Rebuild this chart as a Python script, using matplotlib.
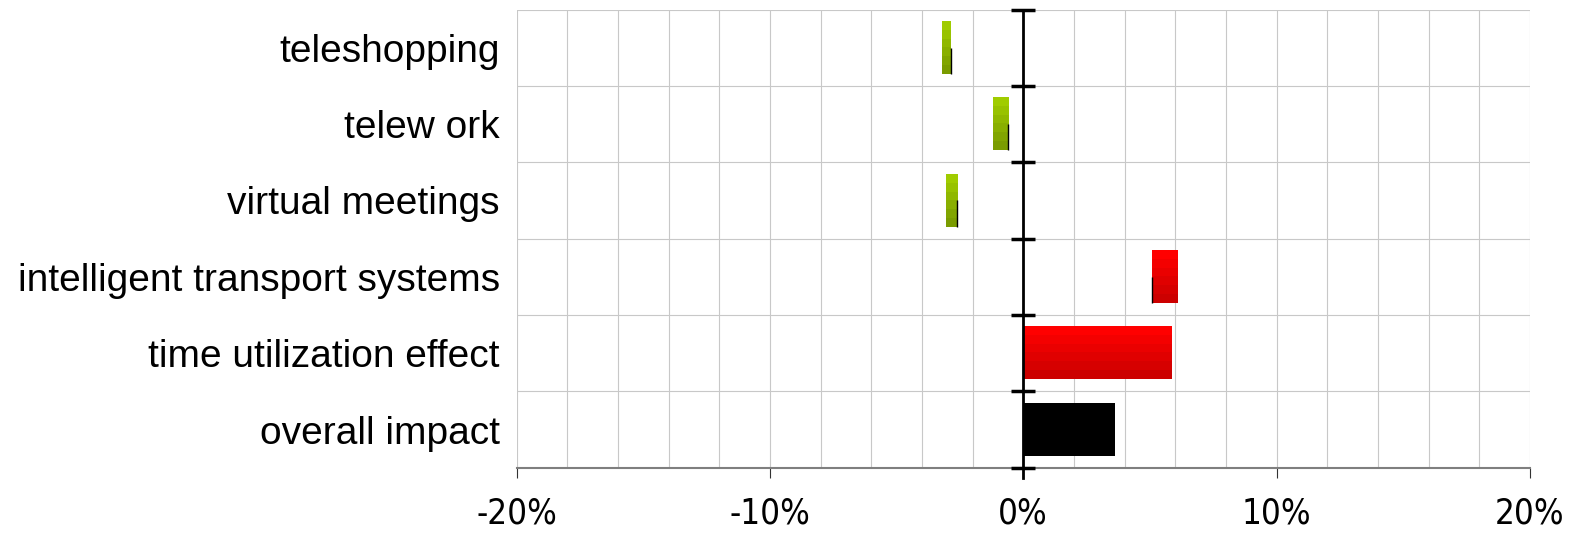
import numpy as np
import matplotlib
matplotlib.use("Agg")
import matplotlib.pyplot as plt
from matplotlib import font_manager
from matplotlib.ticker import MultipleLocator, FixedLocator, FuncFormatter

# change in travel (%), each bar runs from start to end
categories = ["teleshopping", "telew ork", "virtual meetings",
              "intelligent transport systems", "time utilization effect",
              "overall impact"]
starts = [-3.2, -1.2, -3.05, 6.1, 0.0, 0.0]
ends = [-2.85, -0.6, -2.6, 5.1, 5.85, 3.6]
marked = [True, True, True, True, False, False]
kinds = ["green", "green", "green", "red", "red", "black"]

gradients = {
    "green": ("#a0cc00", "#7a9c00"),
    "red": ("#ff0000", "#cc0000"),
    "black": ("#000000", "#000000"),
}

names = {f.name for f in font_manager.fontManager.ttflist}
label_font = "Liberation Sans" if "Liberation Sans" in names else "DejaVu Sans"

# narrow face for the percent labels, if one is around
tick_prop = None
for f in font_manager.fontManager.ttflist:
    if f.style == "normal" and f.weight in (400, "normal", "regular") and (
            "Narrow" in f.name or "Condensed" in f.name
            or f.stretch in ("condensed", "semi-condensed")):
        tick_prop = font_manager.FontProperties(fname=f.fname, size=25)
        break
if tick_prop is None:
    tick_prop = font_manager.FontProperties(family=label_font, size=24)

fig = plt.figure(figsize=(15.77, 5.33), dpi=100)
ax = fig.add_axes([516.5 / 1577, 65.3 / 533, 1013.5 / 1577, 458.2 / 533])

y = np.arange(len(categories))
h = 0.69
left = np.minimum(starts, ends)
width = np.abs(np.subtract(ends, starts))
bars = ax.barh(y, width, left=left, height=h, color="none", zorder=3)

# vertical gradient inside each bar
for i, b in enumerate(bars):
    top, bottom = gradients[kinds[i]]
    c0 = np.array(matplotlib.colors.to_rgb(top))
    c1 = np.array(matplotlib.colors.to_rgb(bottom))
    t = np.linspace(0, 1, 6)[:, None]
    img = (c0 * (1 - t) + c1 * t)[:, None, :]
    x0, w = b.get_x(), b.get_width()
    ax.imshow(img, extent=(x0, x0 + w, y[i] + h / 2, y[i] - h / 2),
              origin="upper", aspect="auto", interpolation="nearest", zorder=3)
    if marked[i]:
        ax.vlines(ends[i], y[i], y[i] + h / 2, color="black", lw=1.0, zorder=4)

ax.set_xlim(-20, 20)
ax.set_ylim(len(categories) - 0.5, -0.5)

ax.xaxis.set_major_locator(MultipleLocator(10))
ax.xaxis.set_minor_locator(MultipleLocator(2))
ax.xaxis.set_major_formatter(FuncFormatter(lambda v, p: "%d%%" % round(v)))
ax.set_yticks(y)
ax.set_yticklabels(categories)
bounds = np.arange(len(categories) + 1) - 0.5
ax.yaxis.set_minor_locator(FixedLocator(bounds))

ax.grid(True, which="both", axis="x", color="#c8c8c8", lw=0.8, zorder=0)
ax.grid(True, which="minor", axis="y", color="#c8c8c8", lw=0.8, zorder=0)
ax.set_axisbelow(True)

for s in ["top", "right", "left"]:
    ax.spines[s].set_visible(False)
ax.spines["bottom"].set_color("#7f7f7f")
ax.spines["bottom"].set_linewidth(1.5)

ax.tick_params(axis="x", which="major", length=7.5, width=0.8, color="#333333",
               pad=13)
ax.tick_params(axis="x", which="minor", length=0)
ax.tick_params(axis="y", which="both", length=0, pad=12, labelsize=28)
for lab in ax.get_xticklabels():
    lab.set_fontproperties(tick_prop)
for lab in ax.get_yticklabels():
    lab.set_fontfamily(label_font)

# zero axis with caps at the row boundaries
ax.plot([0, 0], [-0.5, len(categories) - 0.5 + 0.14], color="black", lw=2.0,
        clip_on=False, zorder=5)
ax.plot(np.zeros_like(bounds), bounds, ls="none", marker="_", ms=17, mew=2.5,
        color="black", clip_on=False, zorder=5)

fig.savefig("out.png", dpi=100)
